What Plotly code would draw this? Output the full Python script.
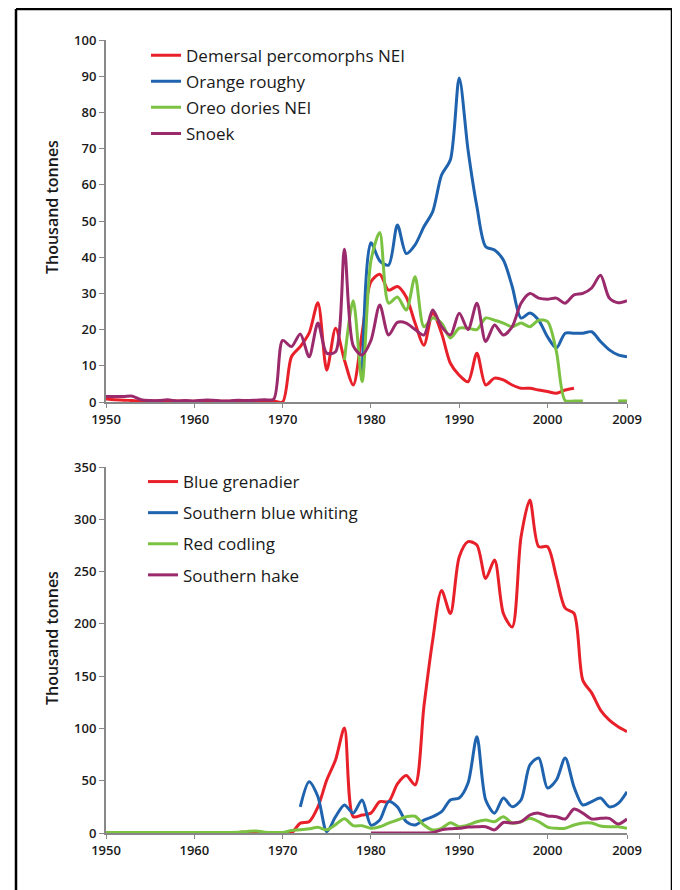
import plotly.graph_objects as go

years = list(range(1950, 2010))

# --- top panel (thousand tonnes) ---
demersal_percomorphs = [0.8, 0.6, 0.5, 0.4, 0.3, 0.3, 0.2, 0.3, 0.3, 0.2,
                        0.2, 0.3, 0.3, 0.2, 0.2, 0.2, 0.3, 0.3, 0.3, 0.3,
                        0.0, 12.5, 15.3, 19.0, 27.4, 8.8, 20.4, 11.6, 4.7, 19.0,
                        33.2, 35.3, 30.9, 31.9, 29.0, 21.8, 15.7, 24.5, 19.0, 10.7,
                        7.4, 5.6, 13.5, 4.7, 6.6, 6.1, 4.7, 3.8, 3.8, 3.3,
                        2.9, 2.4, 3.3, 3.8, None, None, None, None, None, None]
orange_roughy = [None] * 29 + [6.0,
                 44.0, 39.0, 37.8, 48.9, 41.0, 43.4, 48.4, 52.6, 62.7, 66.9,
                 89.5, 69.6, 54.0, 42.9, 42.0, 39.2, 31.9, 23.2, 24.6, 22.6,
                 18.0, 14.9, 19.0, 19.0, 19.0, 19.4, 16.7, 14.4, 13.0, 12.5]
oreo_dories = [None] * 27 + [11.6, 28.0, 5.6,
               39.0, 46.8, 27.3, 29.0, 25.4, 34.6, 20.8, 23.2, 21.8, 17.7,
               20.4, 20.4, 20.0, 23.2, 22.6, 21.8, 20.8, 21.8, 20.8, 22.6,
               22.2, 14.0, 0.4, 0.3, 0.3, None, None, None, 0.3, 0.3]
snoek = [1.5, 1.5, 1.5, 1.6, 0.6, 0.4, 0.4, 0.6, 0.3, 0.4,
         0.3, 0.5, 0.5, 0.3, 0.3, 0.5, 0.4, 0.5, 0.6, 0.8,
         17.0, 15.3, 18.8, 12.5, 21.8, 13.5, 13.9, 42.2, 15.5, 13.0,
         17.0, 26.8, 18.5, 22.0, 21.8, 20.0, 18.5, 25.4, 20.8, 18.5,
         24.5, 20.0, 27.3, 16.7, 21.3, 18.5, 20.8, 27.3, 30.0, 28.7,
         28.4, 28.7, 27.3, 29.6, 30.0, 31.5, 35.0, 28.7, 27.4, 28.0]

# --- bottom panel (thousand tonnes) ---
blue_grenadier = [0.3] * 15 + [0.5, 0.8, 0.8, 0.4, 0.2,
                  0.0, 0.0, 9.5, 10.8, 25.0, 50.7, 70.0, 100.4, 15.6, 17.2,
                  19.0, 30.0, 30.0, 47.0, 55.0, 46.0, 120.8, 184.6, 232.0, 210.0,
                  264.0, 278.6, 275.4, 243.5, 261.0, 210.0, 197.0, 283.0, 318.4, 273.8,
                  273.8, 245.0, 215.0, 210.0, 146.0, 134.0, 117.6, 108.0, 101.7, 97.0]
southern_blue_whiting = [None] * 22 + [25.0, 49.0, 34.7, 1.3, 15.6, 26.8, 19.0, 31.6,
                         7.6, 12.4, 30.0, 25.0, 10.8, 7.6, 12.4, 15.6, 20.4, 31.6,
                         33.5, 47.8, 92.0, 31.6, 19.0, 33.5, 25.0, 31.6, 65.0, 71.7,
                         43.0, 50.7, 71.7, 44.0, 26.8, 30.0, 33.5, 25.0, 28.3, 39.5]
red_codling = [0.5] * 15 + [0.6, 1.5, 2.0, 0.8, 0.5,
               0.5, 2.3, 3.0, 4.0, 5.5, 3.0, 8.0, 13.6, 7.0, 7.0,
               4.5, 6.0, 9.5, 12.4, 15.6, 16.0, 7.6, 2.9, 4.5, 9.9,
               6.0, 7.6, 10.8, 12.4, 10.8, 15.6, 9.5, 10.8, 14.0, 10.8,
               5.7, 4.5, 4.5, 7.6, 9.5, 9.5, 6.7, 6.0, 6.0, 4.5]
southern_hake = [None] * 30 + [0.0, 0.0, 0.0, 0.0, 0.0, 0.0, 0.0, 0.5, 3.0, 4.0,
                 4.5, 5.7, 6.0, 6.0, 3.0, 10.0, 9.5, 10.8, 17.2, 19.0,
                 16.3, 15.6, 13.4, 23.0, 19.0, 13.4, 14.0, 14.0, 8.6, 13.4]

RED = "#E8202A"
BLUE = "#1F63AE"
GREEN = "#7CC242"
PURPLE = "#9A2A6C"

top_series = [("Demersal percomorphs NEI", demersal_percomorphs, RED),
              ("Orange roughy", orange_roughy, BLUE),
              ("Oreo dories NEI", oreo_dories, GREEN),
              ("Snoek", snoek, PURPLE)]
bottom_series = [("Blue grenadier", blue_grenadier, RED),
                 ("Southern blue whiting", southern_blue_whiting, BLUE),
                 ("Red codling", red_codling, GREEN),
                 ("Southern hake", southern_hake, PURPLE)]

fig = go.Figure()
for name, vals, col in top_series:
    fig.add_trace(go.Scatter(x=years, y=vals, name=name, mode="lines", legendgroup=name,
                             line=dict(color=col, width=3, shape="spline", smoothing=0.8),
                             xaxis="x", yaxis="y", legend="legend"))
for name, vals, col in bottom_series:
    fig.add_trace(go.Scatter(x=years, y=vals, name=name, mode="lines", legendgroup=name,
                             line=dict(color=col, width=3, shape="spline", smoothing=0.8),
                             xaxis="x2", yaxis="y2", legend="legend2"))

FONT = "Open Sans, Liberation Sans, sans-serif"
tick_font = dict(family=FONT, size=13, color="#1a1a1a", weight=600)
legend_font = dict(family=FONT, size=17, color="#1a1a1a", weight=500)
title_font = dict(family=FONT, size=16, color="#1a1a1a", weight=600)
xtickvals = [1950, 1960, 1970, 1980, 1990, 2000, 2009]

xaxis_common = dict(range=[1950, 2009], tickvals=xtickvals, ticks="outside", ticklen=4,
                    tickcolor="#888", showline=True, linecolor="#888", linewidth=2,
                    showgrid=False, zeroline=False, tickfont=tick_font, fixedrange=True)
yaxis_common = dict(ticks="outside", ticklen=5, tickcolor="#888", showline=True,
                    linecolor="#888", linewidth=2, showgrid=False, zeroline=False,
                    tickfont=tick_font)

# outer frame, in pixels of the figure, turned into paper fractions
W, H, L, R, T, B = 672, 882, 98, 53, 32, 57
pw, ph = W - L - R, H - T - B
fx0, fx1 = (8 - L) / pw, (664 - L) / pw
fy_top = (H - B - 1) / ph
frame = [dict(x0=fx0, x1=fx0, y0=-0.2, y1=fy_top),
         dict(x0=fx0, x1=fx1, y0=fy_top, y1=fy_top),
         dict(x0=fx1, x1=fx1, y0=-0.2, y1=fy_top)]

fig.update_layout(
    width=W, height=H,
    margin=dict(l=L, r=R, t=T, b=B),
    paper_bgcolor="white", plot_bgcolor="white",
    xaxis=dict(domain=[0, 1], anchor="y", **xaxis_common),
    yaxis=dict(domain=[0.5435, 1], anchor="x", range=[0, 100], dtick=10, **yaxis_common),
    xaxis2=dict(domain=[0, 1], anchor="y2", **xaxis_common),
    yaxis2=dict(domain=[0, 0.4615], anchor="x2", range=[0, 350], dtick=50, **yaxis_common),
    legend=dict(x=0.0768, y=1.003, xanchor="left", yanchor="top", bgcolor="rgba(0,0,0,0)",
                font=legend_font, tracegroupgap=1, itemwidth=30),
    legend2=dict(x=0.071, y=0.4653, xanchor="left", yanchor="top", bgcolor="rgba(0,0,0,0)",
                 font=legend_font, tracegroupgap=6, itemwidth=30),
    showlegend=True,
    annotations=[
        dict(text="Thousand tonnes", textangle=-90, xref="paper", yref="paper",
             x=-0.1036, y=0.7894, xanchor="center", yanchor="middle",
             showarrow=False, font=title_font),
        dict(text="Thousand tonnes", textangle=-90, xref="paper", yref="paper",
             x=-0.1036, y=0.2459, xanchor="center", yanchor="middle",
             showarrow=False, font=title_font),
    ],
    shapes=[dict(type="line", xref="paper", yref="paper",
                 line=dict(color="black", width=2.5), **f) for f in frame],
)

fig.write_html("out.html")
